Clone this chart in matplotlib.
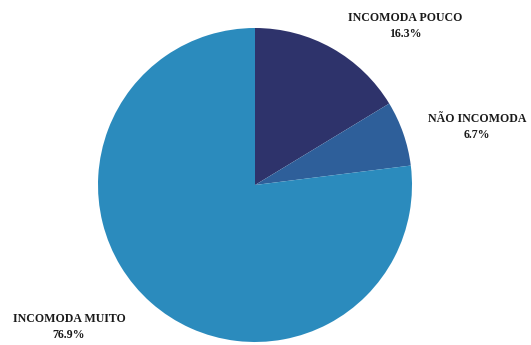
import matplotlib.pyplot as plt

categories = ['INCOMODA POUCO', 'NÃO INCOMODA', 'INCOMODA MUITO']
values = [16.3, 6.7, 76.9]
colors = ['#2e336b', '#2e5f9a', '#2b8bbd']

# label anchor positions in pixels (x, y from top)
label_pos = [(405, 26), (477, 127), (69, 327)]

W, H = 531, 345
fig = plt.figure(figsize=(W / 100, H / 100), dpi=100)
ax = fig.add_axes([0, 0, 1, 1])

ax.pie(values, colors=colors, startangle=90, counterclock=False,
       center=(255, H - 185), radius=157, frame=True,
       wedgeprops=dict(linewidth=0))
ax.set_xlim(0, W)
ax.set_ylim(0, H)
ax.set_aspect('equal')
ax.axis('off')

for cat, v, (x, y) in zip(categories, values, label_pos):
    ax.text(x, H - y, f'{cat}\n{v}%', ha='center', va='center',
            family='Liberation Serif', fontweight='bold', fontsize=8.6,
            linespacing=1.5, color='#1a1a1a')

fig.savefig('out.png', dpi=100)
